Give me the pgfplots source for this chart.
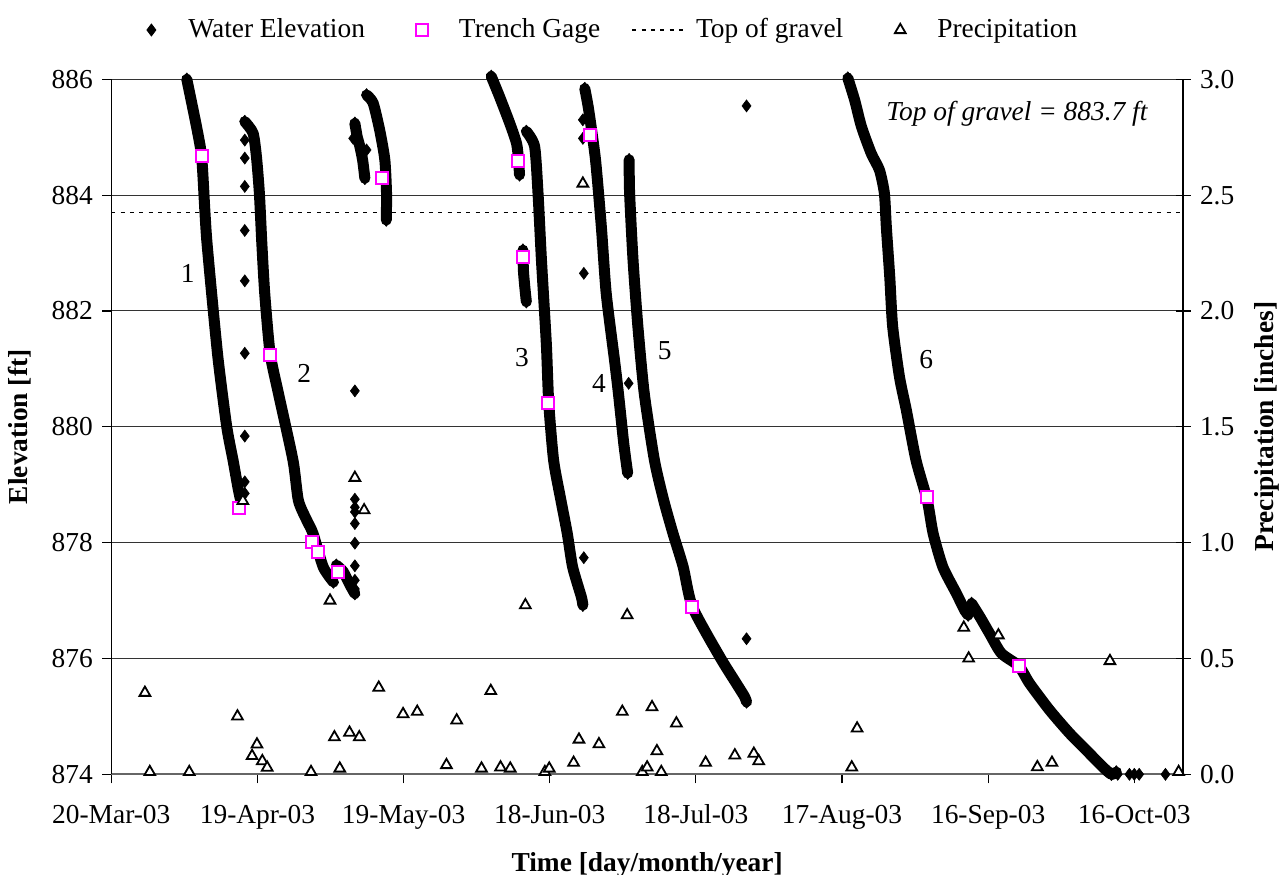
\documentclass[border=0pt]{standalone}
\usepackage{pgfplots}
\pgfplotsset{compat=1.18}
\usepackage{fontspec}
\setmainfont{Liberation Serif}
\newcommand\myfont{\fontsize{13.7bp}{16bp}\selectfont}
\definecolor{trench}{RGB}{255,0,255}
\pgfplotsset{
  curve/.style={black, line width=5.5bp, line join=round, line cap=round, smooth, tension=0.4, mark=diamond*, mark size=3.2bp, mark options={line width=0.3bp, fill=black, solid}},
  dots/.style={only marks, black, mark=diamond*, mark size=3bp, mark options={line width=0.3bp, fill=black}},
  legdiamond/.style={legend image code/.code={\path[draw=none,fill=none] (0bp,0bp) -- (27bp,0bp); \draw[black, fill=black, mark=diamond*, mark size=3bp, only marks] plot coordinates {(13bp,0bp)};}},
  legsquare/.style={legend image code/.code={\path[draw=none,fill=none] (0bp,0bp) -- (27bp,0bp); \draw[trench, fill=white, line width=1bp, mark=square*, mark size=3bp, only marks] plot coordinates {(13bp,0bp)};}},
  legline/.style={legend image code/.code={\draw[black, line width=0.9bp, dash pattern=on 2bp off 2.67bp] (0bp,0bp) -- (27bp,0bp);}},
  legtri/.style={legend image code/.code={\path[draw=none,fill=none] (0bp,0bp) -- (27bp,0bp); \draw[black, fill=white, line width=0.9bp, mark=triangle*, mark size=3.1bp, only marks] plot coordinates {(13bp,0bp)};}},
}
\begin{document}
\myfont
\begin{tikzpicture}
\useasboundingbox (0,0) rectangle (643bp,437.5bp);
\begin{axis}[
  at={(55.65bp,50.35bp)}, anchor=south west, scale only axis,
  width=535.85bp, height=347.5bp,
  xmin=0, xmax=220, ymin=874, ymax=886,
  axis x line*=bottom, axis y line*=left,
  axis line style={-},
  x axis line style={-, black!60, line width=1bp},
  y axis line style={-, black, line width=0.6bp},
  xtick={0,30,...,210},
  xticklabels={20-Mar-03,19-Apr-03,19-May-03,18-Jun-03,18-Jul-03,17-Aug-03,16-Sep-03,16-Oct-03},
  ytick={874,876,...,886},
  ymajorgrids, major grid style={black!80, line width=0.5bp},
  tick align=outside, major tick length=4.5bp,
  tick style={black, line width=0.6bp},
  /pgf/number format/assume math mode=true,
  tick label style={font=\myfont},
  xticklabel style={yshift=-6bp},
  xlabel={Time [day/month/year]}, ylabel={Elevation [ft]},
  label style={font=\myfont\bfseries},
  xlabel style={at={(axis description cs:0.5,0)}, anchor=base, yshift=-48.35bp},
  ylabel style={at={(axis description cs:-0.0858,0.5)}, anchor=center},
  clip=false,
]
% Top of gravel
\addplot[black, line width=0.9bp, dash pattern=on 2bp off 2.67bp] coordinates {(0,883.7) (220,883.7)};
% Water elevation curves
\addplot[curve] coordinates {(15.5,886.0) (17.5,885.18) (18.55,884.66) (19.2,883.74) (19.6,883.22) (20.6,882.30) (21.95,881.15) (23.7,880.0) (25.0,879.42) (26.0,878.95) (26.5,878.75)};
\addplot[curve] coordinates {(27.4,885.27) (29.1,885.07) (29.8,884.66) (30.4,884.03) (30.9,883.17) (31.5,882.30) (32.6,881.27) (34.3,880.58) (37.3,879.42) (38.4,878.73) (40.1,878.39) (41.4,878.16) (43.5,877.58) (45.6,877.32)};
\addplot[curve] coordinates {(46.2,877.61) (47.6,877.50) (49.0,877.27) (50.0,877.12)};
\addplot[curve] coordinates {(50.0,885.24) (50.5,885.0) (51.0,884.85) (51.6,884.6) (52.05,884.29)};
\addplot[curve] coordinates {(52.4,885.73) (53.75,885.59) (55.1,885.12) (56.15,884.61) (56.5,884.03) (56.45,883.57)};
\addplot[curve] coordinates {(78.0,886.05) (79.7,885.70) (81.8,885.24) (83.2,884.89) (83.6,884.6) (83.8,884.35)};
\addplot[curve] coordinates {(84.5,883.05) (84.6,882.7) (84.9,882.4) (85.2,882.16)};
\addplot[curve] coordinates {(85.2,885.1) (86.9,884.84) (87.6,884.03) (88.3,882.88) (89.3,881.44) (89.8,880.41) (90.8,879.42) (92.3,878.73) (93.6,878.16) (94.7,877.58) (96.5,877.06) (96.8,876.92)};
\addplot[curve] coordinates {(97.2,885.84) (98.0,885.47) (99.4,884.61) (100.6,883.45) (101.6,882.30) (103.3,881.15) (104.1,880.58) (105.2,879.71) (106.0,879.2)};
\addplot[curve] coordinates {(106.3,884.61) (106.4,884.03) (107.1,882.88) (108.1,881.73) (109.4,880.58) (111.5,879.42) (113.4,878.73) (115.3,878.16) (117.4,877.58) (119.3,876.89) (124.9,876.03) (128.3,875.57) (130.0,875.34) (130.4,875.25)};
\addplot[curve] coordinates {(151.2,886.02) (152.6,885.64) (154.0,885.18) (156.0,884.72) (157.7,884.43) (158.7,884.03) (159.1,883.45) (159.8,882.59) (160.4,881.73) (161.8,880.86) (163.2,880.29) (165.2,879.42) (167.5,878.73) (168.7,878.16) (170.7,877.58) (173.5,877.12) (175.2,876.83) (175.9,876.75)};
\addplot[curve] coordinates {(176.6,876.95) (178.3,876.72) (180.3,876.43) (182.7,876.09) (186.3,875.87) (188.5,875.57) (192.6,875.11) (196.7,874.71) (200.8,874.36) (203.5,874.13) (205.3,874.0) (206.3,874.04)};
% isolated water elevation readings
\addplot[dots] coordinates {(27.4,884.95) (27.4,884.64) (27.4,884.15) (27.4,883.39) (27.4,882.52) (27.4,881.27) (27.4,879.84) (27.4,879.05) (27.4,878.85)
 (50.0,880.62) (50.0,878.75) (50.0,878.61) (50.0,878.53) (50.0,878.33) (50.0,877.99) (50.0,877.60) (50.0,877.35) (50.0,877.2)
 (49.65,884.98) (52.4,884.78)
 (96.8,885.30) (96.8,884.98) (97.0,882.65) (97.0,877.74) (106.2,880.75) (130.4,885.54) (130.4,876.34)
 (206.6,874.0) (209.0,874.0) (210.0,874.0) (211.0,874.0) (216.4,874.0)};
% Trench gage
\addplot[only marks, mark=square*, mark size=3bp, mark options={draw=trench, fill=white, line width=1bp}] coordinates {(18.55,884.68) (26.2,878.59) (32.6,881.24) (41.3,878.01) (42.5,877.84) (46.6,877.50) (55.6,884.29) (83.5,884.59) (84.5,882.93) (89.7,880.41) (98.2,885.04) (119.3,876.89) (167.5,878.78) (186.3,875.87)};
% labels
\node[font=\myfont] at (axis cs:15.7,882.65) {1};
\node[font=\myfont] at (axis cs:39.6,880.92) {2};
\node[font=\myfont] at (axis cs:84.3,881.19) {3};
\node[font=\myfont] at (axis cs:100.1,880.75) {4};
\node[font=\myfont] at (axis cs:113.6,881.32) {5};
\node[font=\myfont] at (axis cs:167.3,881.16) {6};
\node[font=\myfont\itshape] at (axis cs:185.9,885.41) {Top of gravel = 883.7 ft};
\end{axis}
\begin{axis}[
  at={(55.65bp,50.35bp)}, anchor=south west, scale only axis,
  width=535.85bp, height=347.5bp,
  xmin=0, xmax=220, ymin=0, ymax=3,
  axis x line=none, axis y line*=right,
  axis line style={-},
  y axis line style={-, black, line width=0.6bp},
  ytick={0,0.5,1,1.5,2,2.5,3},
  tick align=center, major tick length=7.5bp,
  tick style={black, line width=0.6bp},
  /pgf/number format/assume math mode=true,
  yticklabel style={font=\myfont, /pgf/number format/.cd, fixed, fixed zerofill, precision=1},
  ylabel={Precipitation [inches]},
  label style={font=\myfont\bfseries},
  ylabel style={at={(axis description cs:1.0784,0.5)}, anchor=center},
  clip=false,
  legend style={draw=none, fill=none, legend columns=-1, at={(0.0128,1.0709)}, anchor=west, inner sep=0pt, font=\myfont,
    nodes={inner sep=0pt},
    /tikz/every odd column/.append style={column sep=4.5bp},
    /tikz/every even column/.append style={column sep=15.5bp}},
]
\addlegendimage{legdiamond}
\addlegendentry{Water Elevation}
\addlegendimage{legsquare}
\addlegendentry{Trench Gage}
\addlegendimage{legline}
\addlegendentry{Top of gravel}
\addplot[only marks, legtri, mark=triangle*, mark size=3.1bp, mark options={draw=black, fill=white, line width=0.9bp}] coordinates {
(6.9,0.352) (7.9,0.01) (16.0,0.01) (25.9,0.25) (27.0,1.18) (28.9,0.079) (29.9,0.129) (31.0,0.057) (32.0,0.029) (41.0,0.01) (44.9,0.75) (45.8,0.16) (46.9,0.025) (48.9,0.18) (50.0,1.28) (50.9,0.16) (51.9,1.14) (54.9,0.374) (59.9,0.26) (62.8,0.27) (68.8,0.04) (70.9,0.233) (76.0,0.025) (77.9,0.36) (79.9,0.03) (81.9,0.025) (85.0,0.73) (89.0,0.01) (89.9,0.025) (94.9,0.05) (96.0,0.15) (96.8,2.55) (100.1,0.13) (104.9,0.27) (105.9,0.687) (109.0,0.01) (110.0,0.03) (111.0,0.29) (112.0,0.10) (112.9,0.01) (116.0,0.22) (122.0,0.05) (128.0,0.082) (131.9,0.089) (132.9,0.057) (152.0,0.03) (153.1,0.198) (175.0,0.633) (176.0,0.50) (182.1,0.60) (190.1,0.031) (193.1,0.05) (205.0,0.489) (219.1,0.01)};
\addlegendentry{Precipitation}
\end{axis}
\end{tikzpicture}
\end{document}
